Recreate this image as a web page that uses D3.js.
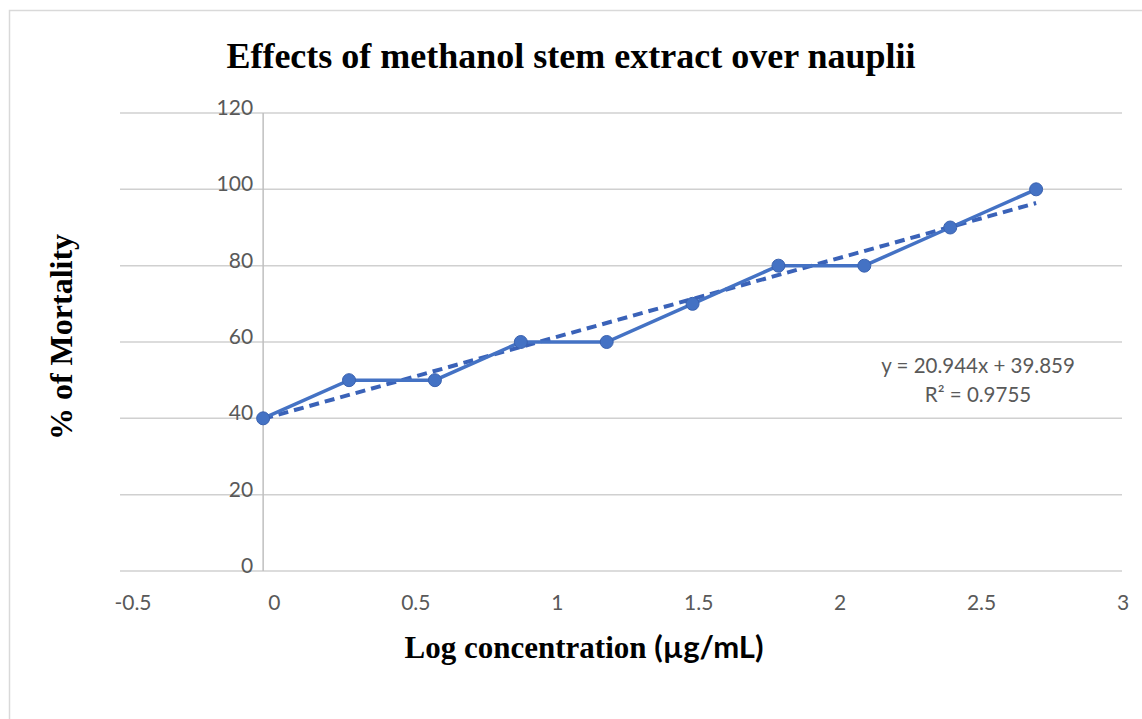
<!DOCTYPE html>
<html><head><meta charset="utf-8">
<script src="https://cdn.jsdelivr.net/npm/d3@7"></script>
<style>body{margin:0;background:#fff;} svg{display:block;}</style>
</head><body>
<svg id="c" width="1142" height="719"></svg>
<script>
const logConc = [0, 0.3, 0.6, 0.9, 1.2, 1.5, 1.8, 2.1, 2.4, 2.7];
const mortality = [40, 50, 50, 60, 60, 70, 80, 80, 90, 100];
const xTicks = [-0.5, 0, 0.5, 1, 1.5, 2, 2.5, 3];
const yTicks = [0, 20, 40, 60, 80, 100, 120];
const trendCoef = [20.944, 39.859];
const eqLines = ["y = 20.944x + 39.859", "R² = 0.9755"];
const titleText = "Effects of methanol stem extract over nauplii";

const svg = d3.select("#c");
svg.append("rect").attr("x",9.5).attr("y",10.5).attr("width",1200).attr("height",800)
  .attr("fill","#fff").attr("stroke","#d9d9d9").attr("stroke-width",1.5);

const x = d3.scaleLinear().domain([-0.5,3]).range([120,1122]);
const y = d3.scaleLinear().domain([0,120]).range([571,113]);
const xLab = d3.scaleLinear().domain([-0.5,3]).range([133,1123]);

svg.append("g").selectAll("line").data(yTicks).join("line")
  .attr("x1",x(-0.5)).attr("x2",x(3)).attr("y1",d=>y(d)).attr("y2",d=>y(d))
  .attr("stroke","#d0d0d0").attr("stroke-width",1.5);
svg.append("line").attr("x1",x(0)).attr("x2",x(0)).attr("y1",y(120)).attr("y2",y(0))
  .attr("stroke","#bfbfbf").attr("stroke-width",1.5);

const tickFont = "Lato, 'Open Sans', sans-serif";
svg.append("g").selectAll("text").data(yTicks).join("text")
  .attr("x",x(0)-10).attr("y",d=>y(d)+2).attr("text-anchor","end")
  .attr("font-family",tickFont).attr("font-size",21).attr("fill","#595959").text(d=>d);
svg.append("g").selectAll("text").data(xTicks).join("text")
  .attr("x",d=>xLab(d)).attr("y",610).attr("text-anchor","middle")
  .attr("font-family",tickFont).attr("font-size",21).attr("fill","#595959").text(d=>d);

const tl = [d3.min(logConc), d3.max(logConc)];
svg.append("line")
  .attr("x1",x(tl[0])).attr("y1",y(trendCoef[0]*tl[0]+trendCoef[1]))
  .attr("x2",x(tl[1])).attr("y2",y(trendCoef[0]*tl[1]+trendCoef[1]))
  .attr("stroke","#3a62b8").attr("stroke-width",4).attr("stroke-dasharray","10,6");

const data = logConc.map((v,i)=>({x:v,y:mortality[i]}));
svg.append("path").datum(data)
  .attr("d",d3.line().x(d=>x(d.x)).y(d=>y(d.y)))
  .attr("fill","none").attr("stroke","#4472c4").attr("stroke-width",3.5);
svg.append("g").selectAll("circle").data(data).join("circle")
  .attr("cx",d=>x(d.x)).attr("cy",d=>y(d.y)).attr("r",6.5)
  .attr("fill","#4472c4").attr("stroke","#3a62b0").attr("stroke-width",1);

svg.append("g").selectAll("text").data(eqLines).join("text")
  .attr("x",978).attr("y",(d,i)=>373+i*29).attr("text-anchor","middle")
  .attr("font-family",tickFont).attr("font-size",20.5).attr("fill","#595959").text(d=>d);

svg.append("text").attr("x",571).attr("y",68).attr("text-anchor","middle")
  .attr("font-family","'Liberation Serif', 'Times New Roman', serif").attr("font-weight","bold")
  .attr("font-size",36).attr("fill","#000").text(titleText);

svg.append("text").attr("transform","translate(72,337) rotate(-90)").attr("text-anchor","middle")
  .attr("font-family","'Liberation Serif', serif").attr("font-weight","bold")
  .attr("font-size",32).attr("fill","#000").text("% of Mortality");

const xt = svg.append("text").attr("x",584).attr("y",658).attr("text-anchor","middle")
  .attr("font-weight","bold").attr("font-size",31).attr("fill","#000");
xt.append("tspan").attr("font-family","'Liberation Serif', serif").text("Log concentration ");
xt.append("tspan").attr("font-family","Lato, 'Open Sans', sans-serif").text("(µg/mL)");
</script>
</body></html>
